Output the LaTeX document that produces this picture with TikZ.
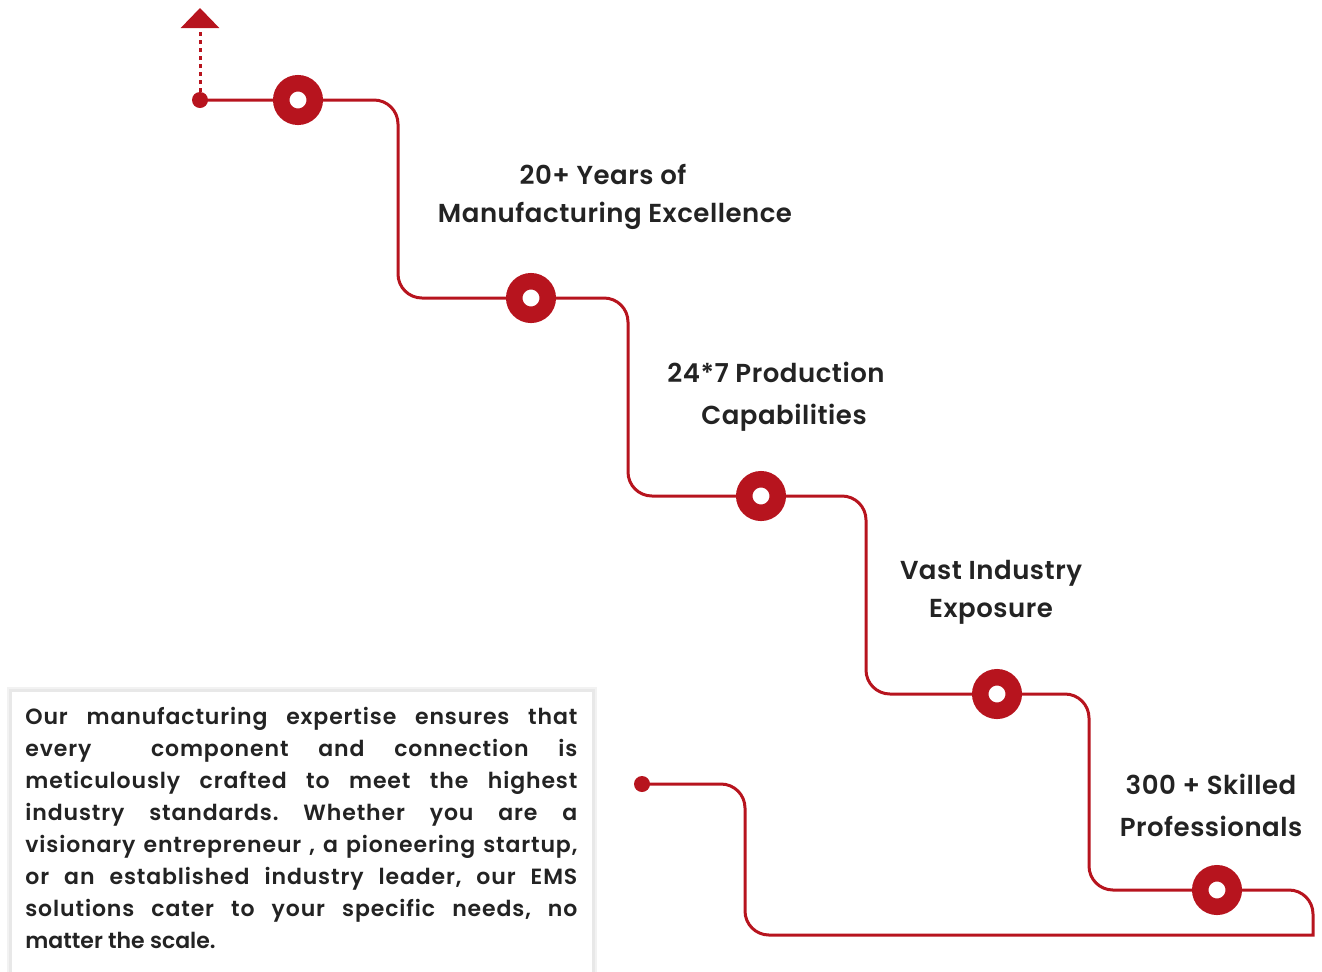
\documentclass[tikz,border=0pt]{standalone}
\usepackage{fontspec}
\setmainfont{Poppins}
\newfontfamily\headfont{Poppins SemiBold}[LetterSpace=2]
\newfontfamily\bodyfont{Poppins SemiBold}[LetterSpace=4]
\usetikzlibrary{arrows.meta,backgrounds}
\definecolor{ptred}{RGB}{183,20,30}
\definecolor{txt}{RGB}{35,35,35}
\frenchspacing
\tikzset{
  route/.style={draw=ptred, line width=1.5pt, rounded corners=12pt},
  stop/.style={circle, draw=ptred, line width=8.25pt, fill=white, minimum size=16.75pt, inner sep=0pt},
  dot/.style={circle, fill=ptred, minimum size=8pt, inner sep=0pt},
  label/.style={font=\headfont\fontsize{13}{19}\selectfont, text=txt, align=center}
}
\begin{document}
\begin{tikzpicture}[x=0.5pt,y=-0.5pt]
    \useasboundingbox (0,0) rectangle (1322,971);
    % Stops
    \foreach \x/\y [count=\i] in {298/100,531/298,761/496,997/694,1217/890}
    {
      \node[stop] (s\i) at (\x,\y) {};
    }
    \node[dot] (start) at (200,100) {};
    \node[dot] (end) at (642,784) {};
    \coordinate (tip) at (200,8);

    % Staircase
    \begin{pgfonlayer}{background}
      \draw[route] (start.center) -- (s1.center) -- (398,100) -- (398,298) -- (s2.center)
        -- (628,298) -- (628,496) -- (s3.center) -- (866,496) -- (866,694) -- (s4.center)
        -- (1089,694) -- (1089,890) -- (s5.center) -- (1313,890)
        [sharp corners] -- (1313,935) -- (1000,935)
        [rounded corners=12pt] -- (745,935) -- (745,784) -- (end.center);
    \end{pgfonlayer}

    % Dotted arrow
    \draw[ptred, line width=1.5pt, dash pattern=on 2pt off 2pt, -{Triangle[width=19pt,length=10pt,sep=0pt]}]
      (start.center) -- (tip);

    % Labels
    \node[label] (l1) at (615,197) {\hspace*{-12pt}20+ Years of\\Manufacturing Excellence};
    \node[label] (l2) at (776,397) {24*7 Production\\[2pt]\hspace*{8pt}Capabilities};
    \node[label] (l3) at (991,592) {Vast Industry\\Exposure};
    \node[label] (l4) at (1211,805) {300 + Skilled\\[2pt]Professionals};

    % Text box
    \fill[black!5] (7,687) rectangle (597,990);
    \fill[black!9] (9,689) rectangle (595,990);
    \fill[white] (12,692) rectangle (592,990);
    \node[anchor=north west, inner sep=0pt, text=txt, align=left,
      font=\bodyfont\fontsize{11}{16}\selectfont] (para) at (25,707)
    {\makebox[276pt][s]{Our manufacturing expertise ensures that}\\
     \makebox[276pt][s]{every \ component and connection is}\\
     \makebox[276pt][s]{meticulously crafted to meet the highest}\\
     \makebox[276pt][s]{industry standards. Whether you are a}\\
     \makebox[276pt][s]{visionary entrepreneur , a pioneering startup,}\\
     \makebox[276pt][s]{or an established industry leader, our EMS}\\
     \makebox[276pt][s]{solutions cater to your specific needs, no}\\
     {\addfontfeature{LetterSpace=0}matter the scale.}};
\end{tikzpicture}
\end{document}
